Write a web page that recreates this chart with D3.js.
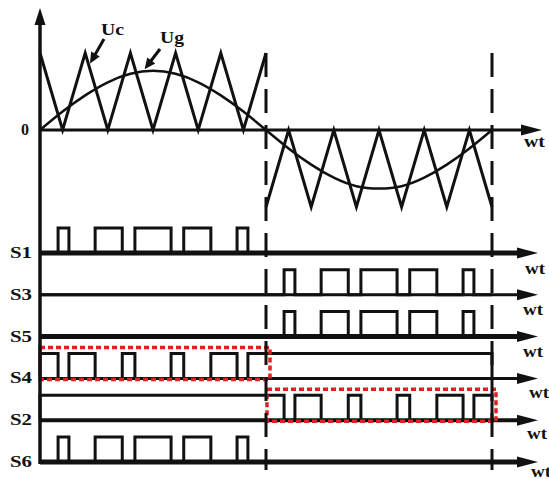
<!DOCTYPE html>
<html>
<head>
<meta charset="utf-8">
<script src="https://cdn.jsdelivr.net/npm/d3@7/dist/d3.min.js"></script>
<style>
	body { margin: 0; background: #fff; }
	text { font-family: 'Liberation Serif', 'Times New Roman', serif; font-weight: bold; fill: #111; }
</style>
</head>
<body>
<div id="chart"></div>
<script>
// time in carrier periods, half a grid period = 5
const carrierT = [0, 0.5, 1, 1.5, 2, 2.5, 3, 3.5, 4, 4.5, 5, 5, 5.5, 6, 6.5, 7, 7.5, 8, 8.5, 9, 9.5, 10]
const carrierV = [1, 0, 1, 0, 1, 0, 1, 0, 1, 0, 1, -1, 0, -1, 0, -1, 0, -1, 0, -1, 0, -1]

const ugT = [0, 0.5, 1, 1.5, 2, 2.5, 3, 3.5, 4, 4.5, 5, 5.5, 6, 6.5, 7, 7.5, 8, 8.5, 9, 9.5, 10]
const ugV = [0, 0.24, 0.45, 0.62, 0.73, 0.77, 0.73, 0.62, 0.45, 0.24, 0, -0.24, -0.45, -0.62, -0.73, -0.76, -0.73, -0.62, -0.45, -0.24, 0]

const switchNames = ['S1', 'S3', 'S5', 'S4', 'S2', 'S6']

// [on, off] intervals of each gate signal
const s1High = [[0.4, 0.64], [1.22, 1.82], [2.1, 2.9], [3.18, 3.78], [4.36, 4.6]]
const s3High = [[5.4, 5.64], [6.22, 6.82], [7.1, 7.9], [8.18, 8.78], [9.36, 9.6]]
const s5High = [[5.4, 5.64], [6.22, 6.82], [7.1, 7.9], [8.18, 8.78], [9.36, 9.6]]
const s4High = [[0, 0.4], [0.64, 1.22], [1.82, 2.1], [2.9, 3.18], [3.78, 4.36], [4.6, 10]]
const s2High = [[0, 5.4], [5.64, 6.22], [6.82, 7.1], [7.9, 8.18], [8.78, 9.36], [9.6, 10]]
const s6High = [[0.4, 0.64], [1.22, 1.82], [2.1, 2.9], [3.18, 3.78], [4.36, 4.6]]

// highlighted (red dashed) parts: switch, from, to
const boxRow = ['S4', 'S2']
const boxFrom = [0, 5]
const boxTo = [5, 10]

const halfMarks = [5, 10]

const width = 549
const height = 479
// the wt labels are not quite lined up in the original
const wtDx = [-12, -14, -14, -8, -10, -6]
const wtDy = [21, 20, 20, 20, 19, 15]

const svg = d3
	.select('#chart')
	.append('svg')
	.attr('width', width)
	.attr('height', height)

const x = d3.scaleLinear().domain([0, 10]).range([40, 492])
const y = d3.scaleLinear().domain([-1, 1]).range([207, 53])
const row = d3.scalePoint().domain(switchNames).range([253, 462])
const pulse = 25

// the lettering is a wide bold serif, so stretch it a bit
function label(px, py, str, len, anchor) {
	return svg
		.append('text')
		.attr('x', px)
		.attr('y', py)
		.attr('text-anchor', anchor || 'start')
		.attr('textLength', len)
		.attr('lengthAdjust', 'spacingAndGlyphs')
		.style('font-size', '16px')
		.text(str)
}

// little filled triangle for the axes
function arrow(px, py, dir) {
	const pts = dir === 'up'
		? [[px, py], [px - 5.5, py + 17], [px + 5.5, py + 17]]
		: [[px, py], [px - 21, py - 5.5], [px - 21, py + 5.5]]
	svg.append('path').attr('d', d3.line()(pts) + 'Z').attr('fill', '#111')
}

// carrier, drawn as two halves (the jump is covered by the dashed line)
const line = d3
	.line()
	.x(d => x(d[0]))
	.y(d => y(d[1]))

const carrier = carrierT.map((t, i) => [t, carrierV[i]])
;[carrier.slice(0, 11), carrier.slice(11)].forEach(seg =>
	svg
		.append('path')
		.attr('d', line(seg))
		.attr('fill', 'none')
		.attr('stroke', '#111')
		.attr('stroke-width', 3)
)

svg
	.append('path')
	.attr('d', line.curve(d3.curveNatural)(ugT.map((t, i) => [t, ugV[i]])))
	.attr('fill', 'none')
	.attr('stroke', '#111')
	.attr('stroke-width', 2.5)

// zero axis
svg
	.append('line')
	.attr('x1', x(0))
	.attr('x2', 530)
	.attr('y1', y(0))
	.attr('y2', y(0))
	.attr('stroke', '#111')
	.attr('stroke-width', 3)
arrow(542, y(0), 'right')

label(25, y(0) + 5, '0', 8, 'middle')
label(524, y(0) + 17, 'wt', 21)

// Uc / Ug callouts
label(101, 35, 'Uc', 23)
label(160, 43, 'Ug', 24)
;[[[104, 39], [92, 60]], [[160, 49], [147, 66]]].forEach(([a, b]) => {
	svg.append('line').attr('x1', a[0]).attr('y1', a[1]).attr('x2', b[0]).attr('y2', b[1]).attr('stroke', '#111').attr('stroke-width', 3)
	const ang = Math.atan2(b[1] - a[1], b[0] - a[0])
	const tip = [b[0] + 4 * Math.cos(ang), b[1] + 4 * Math.sin(ang)]
	const back = [tip[0] - 11 * Math.cos(ang), tip[1] - 11 * Math.sin(ang)]
	const nx = -Math.sin(ang) * 5
	const ny = Math.cos(ang) * 5
	svg
		.append('path')
		.attr('d', d3.line()([tip, [back[0] + nx, back[1] + ny], [back[0] - nx, back[1] - ny]]) + 'Z')
		.attr('fill', '#111')
})

// gate signals
const highs = { S1: s1High, S3: s3High, S5: s5High, S4: s4High, S2: s2High, S6: s6High }
const baseWidth = { S1: 5, S3: 3, S5: 5, S4: 3, S2: 4, S6: 5 }

function steps(high) {
	const pts = [[0, 0]]
	high.forEach(([a, b]) => pts.push([a, 0], [a, 1], [b, 1], [b, 0]))
	pts.push([10, 0])
	return pts
}

switchNames.forEach((name, i) => {
	const base = row(name)
	svg
		.append('line')
		.attr('x1', x(0))
		.attr('x2', 520)
		.attr('y1', base)
		.attr('y2', base)
		.attr('stroke', '#111')
		.attr('stroke-width', baseWidth[name])
	arrow(538, base, 'right')

	svg
		.append('path')
		.attr('d', d3.line().x(d => x(d[0])).y(d => base - d[1] * pulse)(steps(highs[name])))
		.attr('fill', 'none')
		.attr('stroke', '#111')
		.attr('stroke-width', 3)

	label(32, base + 5, name, 22, 'end')
	label(537 + wtDx[i], base + wtDy[i], 'wt', 20)
})

// red dashed highlight boxes
boxRow.forEach((name, i) => {
	const x0 = x(boxFrom[i]) + (boxFrom[i] ? 1 : 0)
	const x1 = x(boxTo[i]) + 4
	const top = row(name) - pulse - 6
	svg
		.append('rect')
		.attr('x', x0)
		.attr('y', top)
		.attr('width', x1 - x0)
		.attr('height', row(name) + 1 - top)
		.attr('fill', 'none')
		.attr('stroke', '#e0211f')
		.attr('stroke-width', 3.5)
		.attr('stroke-dasharray', '5,3')
})

// half period dashed markers
halfMarks.forEach(t =>
	svg
		.append('line')
		.attr('x1', x(t))
		.attr('x2', x(t))
		.attr('y1', 53)
		.attr('y2', 470)
		.attr('stroke', '#111')
		.attr('stroke-width', 3)
		.attr('stroke-dasharray', '24,12')
)

// vertical axis
svg
	.append('line')
	.attr('x1', x(0))
	.attr('x2', x(0))
	.attr('y1', 22)
	.attr('y2', row('S6') + 2)
	.attr('stroke', '#111')
	.attr('stroke-width', 3.5)
arrow(x(0), 8, 'up')
</script>
</body>
</html>
